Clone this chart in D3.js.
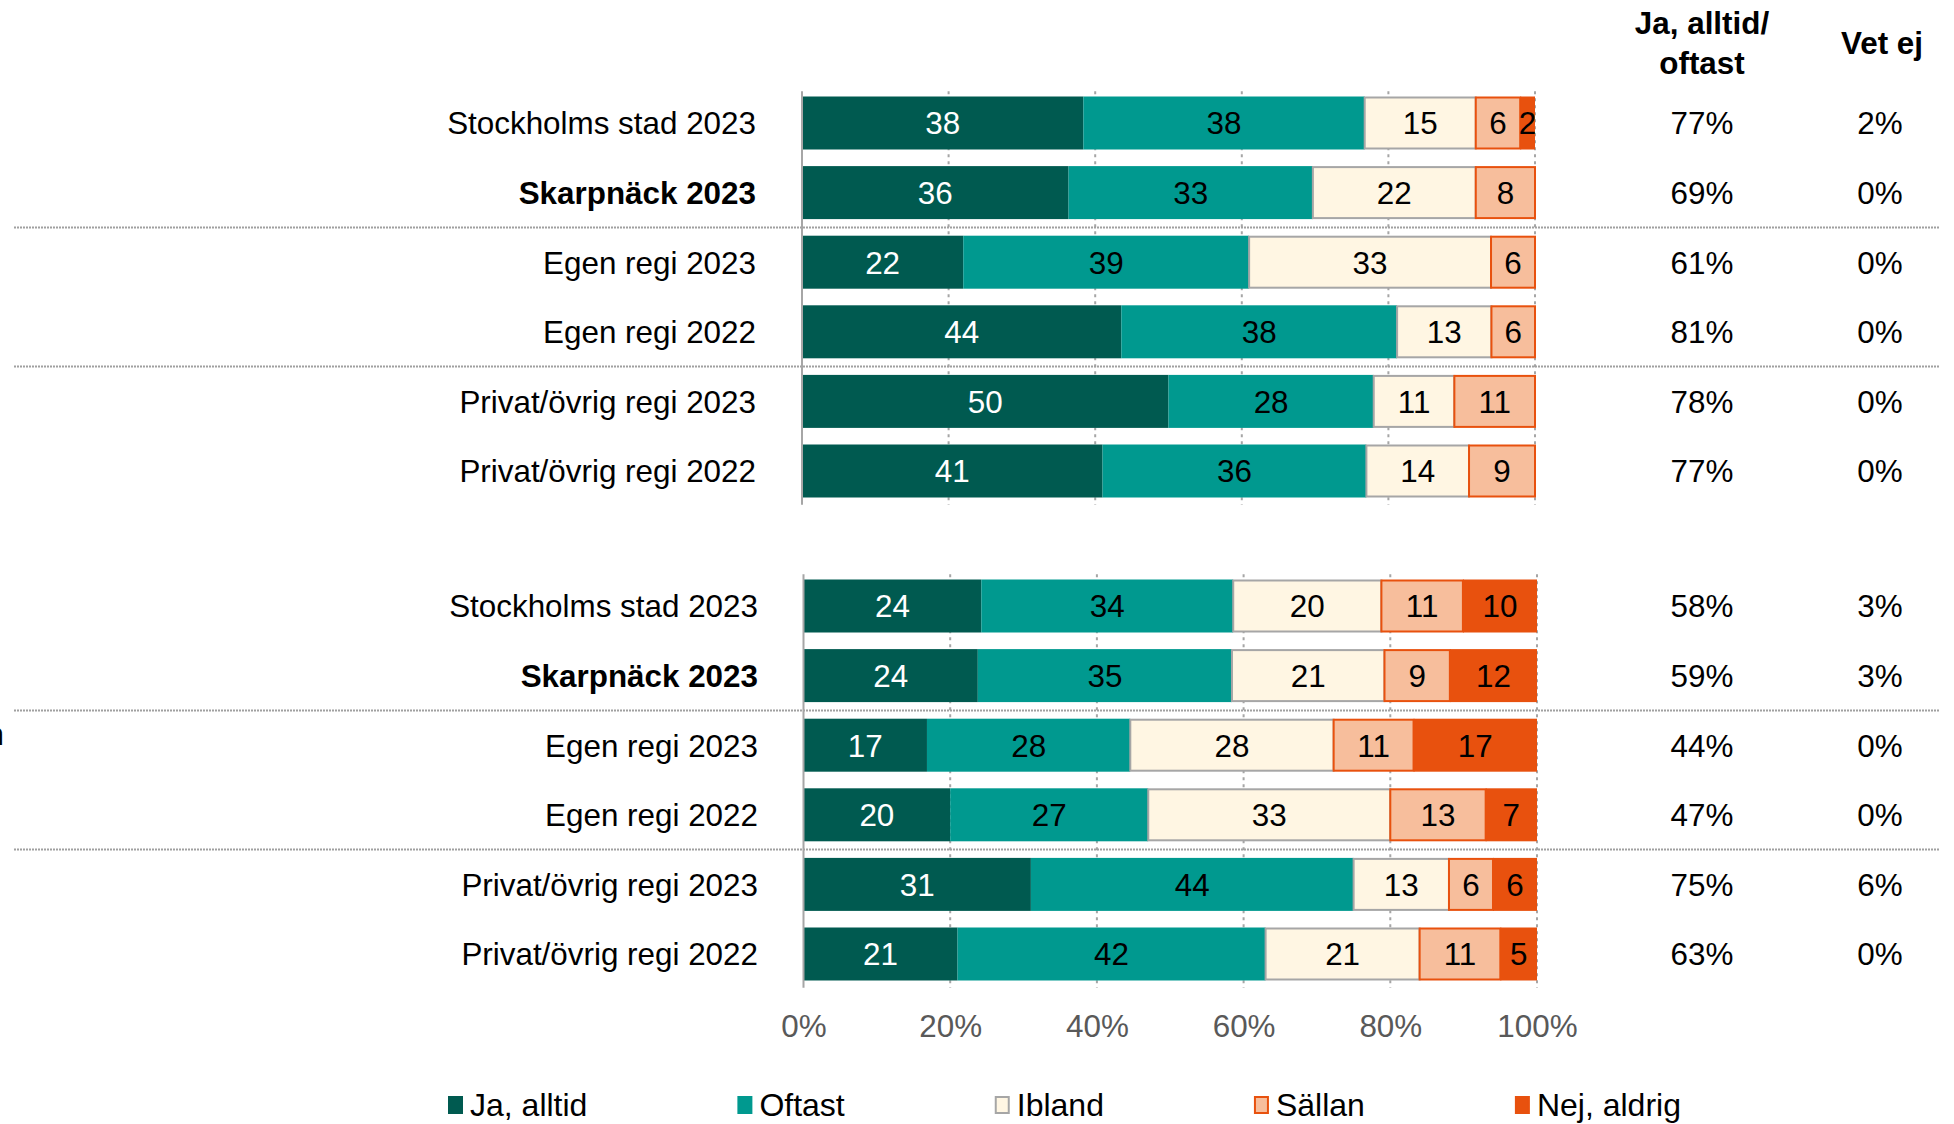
<!DOCTYPE html>
<html>
<head>
<meta charset="utf-8">
<script src="https://cdn.jsdelivr.net/npm/d3@7"></script>
<style>
  html, body { margin: 0; padding: 0; background: #fff; }
  svg { display: block; font-family: "Liberation Sans", Arial, sans-serif; }
</style>
</head>
<body>
<svg id="chart" width="1954" height="1124"></svg>
<script>
// ---------- DATA ----------
const categories = ["Stockholms stad 2023", "Skarpnäck 2023", "Egen regi 2023", "Egen regi 2022", "Privat/övrig regi 2023", "Privat/övrig regi 2022"];
const boldCategory = "Skarpnäck 2023";
const seriesNames = ["Ja, alltid", "Oftast", "Ibland", "Sällan", "Nej, aldrig"];

// Panel 1 (upper)
const p1JaAlltid  = [38, 36, 22, 44, 50, 41];
const p1Oftast    = [38, 33, 39, 38, 28, 36];
const p1Ibland    = [15, 22, 33, 13, 11, 14];
const p1Sallan    = [6, 8, 6, 6, 11, 9];
const p1NejAldrig = [2, 0, 0, 0, 0, 0];
const p1JaOftast  = [77, 69, 61, 81, 78, 77];
const p1VetEj     = [2, 0, 0, 0, 0, 0];

// Panel 2 (lower)
const p2JaAlltid  = [24, 24, 17, 20, 31, 21];
const p2Oftast    = [34, 35, 28, 27, 44, 42];
const p2Ibland    = [20, 21, 28, 33, 13, 21];
const p2Sallan    = [11, 9, 11, 13, 6, 11];
const p2NejAldrig = [10, 12, 17, 7, 6, 5];
const p2JaOftast  = [58, 59, 44, 47, 75, 63];
const p2VetEj     = [3, 3, 0, 0, 6, 0];

const tickValues = [0, 0.2, 0.4, 0.6, 0.8, 1];
const tickLabels = ["0%", "20%", "40%", "60%", "80%", "100%"];
const columnHeaders = [["Ja, alltid/", "oftast"], ["Vet ej"]];
const cutLabel = "n";

// ---------- STYLE ----------
const fills   = ["#005A50", "#00998F", "#FFF6E3", "#F7BE9C", "#E8510E"];
const strokes = ["none", "none", "#A6A6A6", "#E8510E", "none"];
const labelColors = ["#ffffff", "#000000", "#000000", "#000000", "#000000"];
const FS = 31.4;

const svg = d3.select("#chart");

function buildRows(ja, of, ib, sa, ne, jo, ve) {
  return categories.map((c, i) => ({
    cat: c,
    [seriesNames[0]]: ja[i], [seriesNames[1]]: of[i], [seriesNames[2]]: ib[i],
    [seriesNames[3]]: sa[i], [seriesNames[4]]: ne[i],
    jaOftast: jo[i], vetEj: ve[i]
  }));
}

const panels = [
  { rows: buildRows(p1JaAlltid, p1Oftast, p1Ibland, p1Sallan, p1NejAldrig, p1JaOftast, p1VetEj),
    x: [802, 1535], y: [88.2, 505.8], labelX: 756, seps: [2, 4] },
  { rows: buildRows(p2JaAlltid, p2Oftast, p2Ibland, p2Sallan, p2NejAldrig, p2JaOftast, p2VetEj),
    x: [803.5, 1537], y: [571.2, 988.8], labelX: 758, seps: [2, 4] }
];

const colJaX = 1702, colVetX = 1880;

panels.forEach((p, pi) => {
  const x = d3.scaleLinear().domain([0, 1]).range(p.x);
  const y = d3.scaleBand().domain(categories).range(p.y).paddingInner(0.2385).paddingOuter(0.2385 / 2);
  const g = svg.append("g");

  // gridlines
  g.selectAll("line.grid").data(tickValues.slice(1)).join("line")
    .attr("x1", d => x(d)).attr("x2", d => x(d))
    .attr("y1", p.y[0] + 3).attr("y2", p.y[1] - 1)
    .attr("stroke", "#A6A6A6").attr("stroke-width", 2).attr("stroke-dasharray", "3,4");

  // separators
  g.selectAll("line.sep").data(p.seps).join("line")
    .attr("x1", 14).attr("x2", 1940)
    .attr("y1", d => (y(categories[d - 1]) + y.bandwidth() + y(categories[d])) / 2)
    .attr("y2", d => (y(categories[d - 1]) + y.bandwidth() + y(categories[d])) / 2)
    .attr("stroke", "#A0A0A0").attr("stroke-width", 2).attr("stroke-dasharray", "2,1");

  const stack = d3.stack().keys(seriesNames).offset(d3.stackOffsetExpand);
  const stacked = stack(p.rows);

  stacked.forEach((layer, si) => {
    const lg = g.append("g");
    lg.selectAll("rect").data(layer.filter(d => d.data[seriesNames[si]] > 0)).join("rect")
      .attr("x", d => x(d[0]))
      .attr("y", d => y(d.data.cat) + (strokes[si] !== "none" ? 1 : 0))
      .attr("width", d => x(d[1]) - x(d[0]))
      .attr("height", y.bandwidth() - (strokes[si] !== "none" ? 2 : 0))
      .attr("fill", fills[si])
      .attr("stroke", strokes[si])
      .attr("stroke-width", 2);
    lg.selectAll("text").data(layer.filter(d => d.data[seriesNames[si]] > 0)).join("text")
      .attr("x", d => (x(d[0]) + x(d[1])) / 2)
      .attr("y", d => y(d.data.cat) + y.bandwidth() / 2)
      .attr("dy", "0.36em")
      .attr("text-anchor", "middle")
      .attr("font-size", FS)
      .attr("fill", labelColors[si])
      .text(d => d.data[seriesNames[si]]);
  });

  // axis line at 0
  g.append("line")
    .attr("x1", x(0)).attr("x2", x(0))
    .attr("y1", p.y[0] + 3).attr("y2", p.y[1] - 1)
    .attr("stroke", "#A6A6A6").attr("stroke-width", 2);

  // category labels
  g.selectAll("text.cat").data(p.rows).join("text")
    .attr("x", p.labelX)
    .attr("y", d => y(d.cat) + y.bandwidth() / 2)
    .attr("dy", "0.36em")
    .attr("text-anchor", "end")
    .attr("font-size", FS)
    .attr("font-weight", d => d.cat === boldCategory ? "bold" : "normal")
    .attr("fill", "#000")
    .text(d => d.cat);

  // right columns
  g.selectAll("text.jo").data(p.rows).join("text")
    .attr("x", colJaX)
    .attr("y", d => y(d.cat) + y.bandwidth() / 2)
    .attr("dy", "0.36em").attr("text-anchor", "middle").attr("font-size", FS)
    .text(d => d.jaOftast + "%");
  g.selectAll("text.ve").data(p.rows).join("text")
    .attr("x", colVetX)
    .attr("y", d => y(d.cat) + y.bandwidth() / 2)
    .attr("dy", "0.36em").attr("text-anchor", "middle").attr("font-size", FS)
    .text(d => d.vetEj + "%");

  if (pi === 1) {
    // bottom axis labels
    const axis = d3.axisBottom(x).tickValues(tickValues)
      .tickFormat((d, i) => tickLabels[i]).tickSize(0).tickPadding(27);
    const ag = g.append("g").attr("transform", `translate(0,${p.y[1] - 1})`).call(axis);
    ag.select(".domain").remove();
    ag.selectAll("text").attr("font-size", FS).attr("fill", "#595959")
      .attr("font-family", "Liberation Sans, Arial, sans-serif");
    // cut-off label at left edge (as in the reference)
    g.append("text").attr("x", 4).attr("y", 745).attr("text-anchor", "end")
      .attr("font-size", FS).text(cutLabel);
  }
});

// column headers
svg.append("text").attr("x", colJaX).attr("y", 34).attr("text-anchor", "middle")
  .attr("font-size", FS).attr("font-weight", "bold").text(columnHeaders[0][0]);
svg.append("text").attr("x", colJaX).attr("y", 74).attr("text-anchor", "middle")
  .attr("font-size", FS).attr("font-weight", "bold").text(columnHeaders[0][1]);
svg.append("text").attr("x", 1882).attr("y", 54).attr("text-anchor", "middle")
  .attr("font-size", FS).attr("font-weight", "bold").text(columnHeaders[1][0]);

// legend (flow layout)
const legend = svg.append("g");
let lx = 448;
seriesNames.forEach((s, si) => {
  legend.append("rect")
    .attr("x", lx + 1).attr("y", 1097).attr("width", 13).attr("height", 16)
    .attr("fill", fills[si])
    .attr("stroke", strokes[si] === "none" ? fills[si] : strokes[si])
    .attr("stroke-width", 2);
  const t = legend.append("text")
    .attr("x", lx + 22).attr("y", 1116).attr("font-size", 32).attr("fill", "#000")
    .text(s);
  lx += 22 + t.node().getComputedTextLength() + 150;
});
</script>
</body>
</html>
